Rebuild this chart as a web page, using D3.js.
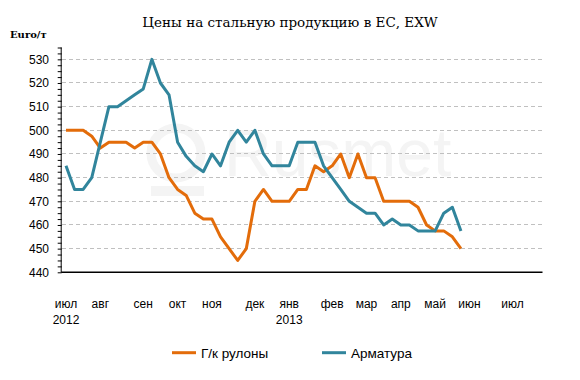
<!DOCTYPE html>
<html><head><meta charset="utf-8">
<script src="https://cdn.jsdelivr.net/npm/d3@7"></script>
<style>html,body{margin:0;padding:0;background:#fff;}svg{display:block;}</style>
</head><body>
<svg id="chart" width="580" height="380"></svg>
<script>
// ---- data (weekly, Jul 2012 – Jun 2013) ----
const coils = [500,500,500,497.5,492.5,495,495,495,492.5,495,495,490,480,475,472.5,465,462.5,462.5,455,450,445,450,470,475,470,470,470,475,475,485,482.5,485,490,480,490,480,480,470,470,470,470,467.5,460,457.5,457.5,455,450];
const rebar = [485,475,475,480,495,510,510,512.5,515,517.5,530,520,515,495,489,485,482.5,490,485,495,500,495,500,490,485,485,485,495,495,495,485,480,475,470,467.5,465,465,460,462.5,460,460,457.5,457.5,457.5,465,467.5,457.5];
const monthLabels = ["июл","авг","сен","окт","ноя","дек","янв","фев","мар","апр","май","июн","июл"];
const monthWeek   = [0,4,9,13,17,22,26,31,35,39,43,47,52];
const yearLabels = ["2012","2013"];
const yearWeek   = [0,26];
const yTicks = [440,450,460,470,480,490,500,510,520,530];
const seriesNames = ["Г/к рулоны","Арматура"];
const nWeeks = 56;

const svg = d3.select("#chart");
const pL = 61.7, pR = 542.5, pT = 47.5, pB = 272.3;
const x = d3.scaleLinear().domain([-0.5, nWeeks - 0.5]).range([pL, pR]);
const y = d3.scaleLinear().domain([440, 535]).range([pB, pT]);
const colors = ["#E36C0A", "#31859C"];

// watermark
const wm = svg.append("g").attr("fill","none");
wm.append("circle").attr("cx",176).attr("cy",153).attr("r",25).attr("stroke","#f4f4f4").attr("stroke-width",9);
wm.append("rect").attr("x",151).attr("y",186).attr("width",53).attr("height",10).attr("fill","#f4f4f4");
svg.append("text").attr("x",224).attr("y",176).attr("font-family","Liberation Sans, Arial, sans-serif")
  .attr("font-size",66).attr("fill","#f4f4f4").text("Rusmet");

// grid
svg.append("g").selectAll("line").data(yTicks.filter(d => d > 440)).join("line")
  .attr("x1", pL).attr("x2", pR).attr("y1", d => y(d)).attr("y2", d => y(d))
  .attr("stroke", "#c0c0c0").attr("stroke-width", 1).attr("stroke-dasharray", "4,3")
  .attr("shape-rendering","crispEdges");

// y axis
const yAxis = d3.axisLeft(y).tickValues(d3.range(440, 535.1, 2.5)).tickSize(4).tickFormat("");
const ya = svg.append("g").attr("transform", `translate(${pL},0)`).call(yAxis);
ya.select(".domain").attr("d", `M-0.5,${pT}V${pB}`).attr("stroke","#000");
ya.selectAll(".tick line").attr("stroke","#000");
svg.append("g").selectAll("text").data(yTicks).join("text")
  .attr("x", 49).attr("y", d => y(d) + 4.3).attr("text-anchor","end")
  .attr("font-family","Liberation Sans, Arial, sans-serif").attr("font-size",12).attr("fill","#000")
  .text(d => d);

// x axis line
svg.append("line").attr("x1", pL - 0.5).attr("x2", pR).attr("y1", pB).attr("y2", pB)
  .attr("stroke","#000").attr("stroke-width",1.4);

// x labels
svg.append("g").selectAll("text").data(monthLabels).join("text")
  .attr("x", (d,i) => x(monthWeek[i])).attr("y", 308).attr("text-anchor","middle")
  .attr("font-family","Liberation Sans, Arial, sans-serif").attr("font-size",12).attr("fill","#000")
  .text(d => d);
svg.append("g").selectAll("text").data(yearLabels).join("text")
  .attr("x", (d,i) => x(yearWeek[i])).attr("y", 324).attr("text-anchor","middle")
  .attr("font-family","Liberation Sans, Arial, sans-serif").attr("font-size",12).attr("fill","#000")
  .text(d => d);

// lines
const line = d3.line().x((d,i) => x(i)).y(d => y(d));
[coils, rebar].forEach((s, k) => {
  svg.append("path").datum(s).attr("d", line).attr("fill","none")
    .attr("stroke", colors[k]).attr("stroke-width", 3).attr("stroke-linejoin","round");
});

// title
svg.append("text").attr("x", 290).attr("y", 27).attr("text-anchor","middle")
  .attr("font-family","DejaVu Serif, serif").attr("font-size",13.5).attr("fill","#000")
  .text("Цены на стальную продукцию в ЕС, EXW");
svg.append("text").attr("x", 10).attr("y", 38)
  .attr("font-family","DejaVu Serif, serif").attr("font-weight","bold").attr("font-size",10).attr("fill","#000")
  .text("Euro/т");

// legend
const legX = [172, 322];
const lg = svg.append("g");
seriesNames.forEach((n, k) => {
  lg.append("line").attr("x1", legX[k]).attr("x2", legX[k] + 24).attr("y1", 352.7).attr("y2", 352.7)
    .attr("stroke", colors[k]).attr("stroke-width", 3);
  lg.append("text").attr("x", legX[k] + 29).attr("y", 357.5)
    .attr("font-family","Liberation Sans, Arial, sans-serif").attr("font-size",13.5).attr("fill","#000")
    .text(n);
});
</script>
</body></html>
